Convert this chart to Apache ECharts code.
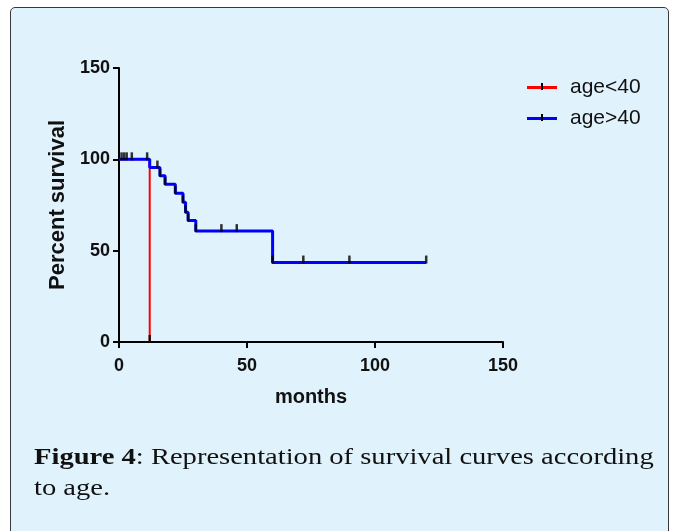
<!DOCTYPE html>
<html>
<head>
<meta charset="utf-8">
<script src="https://cdn.jsdelivr.net/npm/echarts@6/dist/echarts.min.js"></script>
<style>
  html, body { margin: 0; padding: 0; background: #ffffff; }
  #frame {
    position: absolute; left: 10px; top: 7px; width: 657px; height: 540px;
    background: #e0f2fc; border: 1px solid #3a3a3a; border-radius: 5px;
  }
  #chart { position: absolute; left: 0; top: 0; width: 678px; height: 531px; }
  #caption {
    position: absolute; left: 34px; top: 441px; width: 535px;
    font-family: "Liberation Serif", "DejaVu Serif", serif; font-size: 24px;
    line-height: 31px; color: #111;
    transform: scaleX(1.19); transform-origin: 0 0;
  }
</style>
</head>
<body>
<div id="frame"></div>
<div id="chart"></div>
<div id="caption"><b>Figure 4</b>: Representation of survival curves according to age.</div>
<script>
// ---- data ----
const seriesNames = ['age<40', 'age>40'];
const xTicks = [0, 50, 100, 150];
const yTicks = [0, 50, 100, 150];
// Kaplan-Meier steps [months, percent survival]
const under40Steps = [[0, 100], [12, 0]];
const over40Steps = [[0, 100], [12, 95.5], [16, 91], [18, 86.4], [22, 81.5], [25, 76.5],
                     [26, 71], [27, 66.5], [30, 60.7], [60, 43.5], [120, 43.5]];
// censored observations [months, percent survival]
const under40Censored = [[12, 0]];
const over40Censored = [[1, 100], [2, 100], [3, 100], [5, 100], [11, 100], [15, 95.5],
                        [16, 91], [18, 86.4], [22, 81.5], [25, 76.5], [26, 71], [27, 66.5],
                        [30, 60.7], [40, 60.7], [46, 60.7], [60, 43.5], [72, 43.5],
                        [90, 43.5], [120, 43.5]];

const FONT = 'Liberation Sans, Arial, sans-serif';
const chart = echarts.init(document.getElementById('chart'), null, { renderer: 'canvas' });
const censorStyle = {
  type: 'scatter', symbol: 'rect', symbolSize: [2.5, 8], symbolOffset: [0, -3],
  itemStyle: { color: '#000' }, silent: true, z: 5, legendHoverLink: false
};
chart.setOption({
  backgroundColor: 'transparent',
  animation: false,
  grid: { left: 119, right: 175, top: 68, bottom: 189 },
  legend: {
    data: seriesNames.map((n, i) => ({ name: n, icon: 'rect', itemStyle: { color: i ? '#0000ff' : '#ff0000' } })),
    orient: 'vertical', left: 527, top: 77, padding: 0, itemWidth: 30, itemHeight: 3, itemGap: 10,
    textStyle: { fontFamily: FONT, fontSize: 21, color: '#111', padding: [0, 0, 0, 8] }
  },
  xAxis: {
    type: 'value', min: 0, max: 150, interval: 50,
    name: 'months', nameLocation: 'middle', nameGap: 45,
    nameTextStyle: { fontFamily: FONT, fontSize: 20, fontWeight: 'bold', color: '#111' },
    axisLine: { show: true, onZero: false, lineStyle: { color: '#000', width: 2 } },
    axisTick: { show: true, length: 6, lineStyle: { color: '#000', width: 2 } },
    axisLabel: { fontFamily: FONT, fontSize: 18, fontWeight: 'bold', color: '#111', margin: 15,
                 formatter: v => xTicks.includes(v) ? String(v) : '' },
    splitLine: { show: false }
  },
  yAxis: {
    type: 'value', min: 0, max: 150, interval: 50,
    name: 'Percent survival', nameLocation: 'middle', nameGap: 44,
    nameTextStyle: { fontFamily: FONT, fontSize: 22, fontWeight: 'bold', color: '#111' },
    axisLine: { show: true, onZero: false, lineStyle: { color: '#000', width: 2 } },
    axisTick: { show: true, length: 6, lineStyle: { color: '#000', width: 2 } },
    axisLabel: { fontFamily: FONT, fontSize: 18, fontWeight: 'bold', color: '#111', margin: 9,
                 formatter: v => yTicks.includes(v) ? String(v) : '' },
    splitLine: { show: false }
  },
  series: [
    { name: seriesNames[0], type: 'line', step: 'end', data: under40Steps, showSymbol: false,
      lineStyle: { color: '#ff0000', width: 2 }, itemStyle: { color: '#ff0000' }, z: 2 },
    { name: seriesNames[1], type: 'line', step: 'end', data: over40Steps, showSymbol: false,
      lineStyle: { color: '#0000ff', width: 3 }, itemStyle: { color: '#0000ff' }, z: 3 },
    Object.assign({ name: 'censor1', data: under40Censored }, censorStyle),
    Object.assign({ name: 'censor2', data: over40Censored }, censorStyle)
  ],
  graphic: [
    { type: 'rect', left: 541, top: 83, shape: { width: 2, height: 7 }, style: { fill: '#000' }, z: 100 },
    { type: 'rect', left: 541, top: 114, shape: { width: 2, height: 7 }, style: { fill: '#000' }, z: 100 }
  ]
});
</script>
</body>
</html>
